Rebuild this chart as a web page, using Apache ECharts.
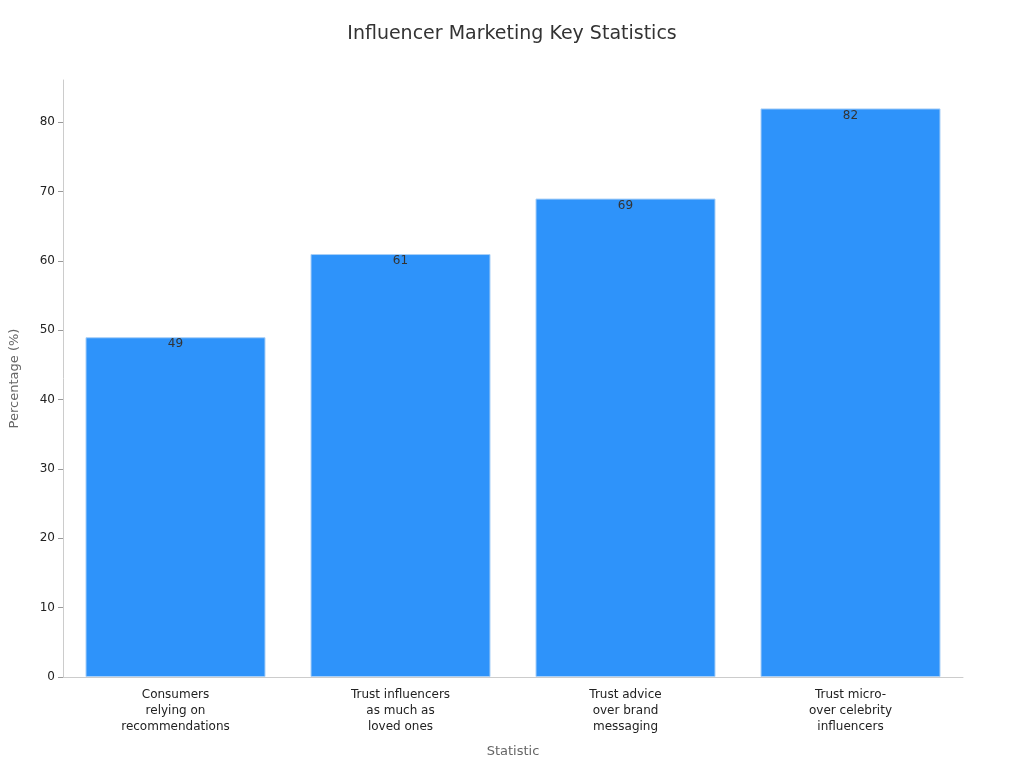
<!DOCTYPE html>
<html><head><meta charset="utf-8">
<script src="https://cdn.jsdelivr.net/npm/echarts@6/dist/echarts.min.js"></script>
<style>html,body{margin:0;padding:0;}#c{width:1024px;height:768px;}</style>
</head><body><div id="c"></div>
<script>
const categories = ["Consumers\nrelying on\nrecommendations","Trust influencers\nas much as\nloved ones","Trust advice\nover brand\nmessaging","Trust micro-\nover celebrity\ninfluencers"];
const values = [49, 61, 69, 82];
const chart = echarts.init(document.getElementById('c'));
chart.setOption({
  backgroundColor:'#fff',
  textStyle:{fontFamily:'DejaVu Sans'},
  title:{text:'Influencer Marketing Key Statistics',left:'center',top:20,textStyle:{fontSize:19,fontWeight:'normal',color:'#333',fontFamily:'DejaVu Sans'}},
  grid:{left:60,right:61,top:80,bottom:91},
  xAxis:{type:'category',data:categories,name:'Statistic',nameLocation:'middle',nameGap:68,
    nameTextStyle:{fontSize:13,color:'#666'},
    axisLine:{lineStyle:{color:'#ccc'}},axisTick:{alignWithLabel:true,lineStyle:{color:'#999'}},
    axisLabel:{color:'#222',fontSize:12,lineHeight:16,margin:10}},
  yAxis:{type:'value',min:0,max:86.1,interval:10,name:'Percentage (%)',nameLocation:'middle',nameGap:42,
    nameTextStyle:{fontSize:13,color:'#666'},
    axisLine:{show:true,lineStyle:{color:'#ccc'}},axisTick:{show:true,lineStyle:{color:'#999'}},
    splitLine:{show:false},axisLabel:{color:'#222',fontSize:12,showMaxLabel:false}},
  series:[{type:'bar',data:values,barWidth:'80%',
    itemStyle:{color:'#2E93FA',borderColor:'#a8cff7',borderWidth:1},
    label:{show:true,position:'insideTop',offset:[0,-4],color:'#333',fontSize:12}}]
});
</script></body></html>
